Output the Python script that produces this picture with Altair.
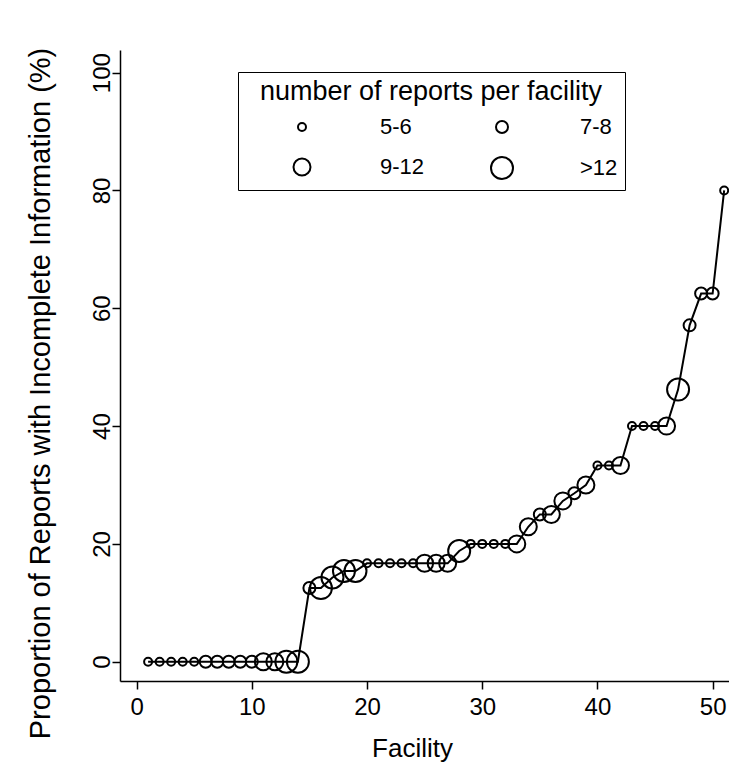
import altair as alt
import pandas as pd

facility = list(range(1, 52))
percent = [0, 0, 0, 0, 0, 0, 0, 0, 0, 0, 0, 0, 0, 0,
           12.5, 12.5, 14.3, 15.4, 15.4, 16.7, 16.7, 16.7, 16.7, 16.7,
           16.7, 16.7, 16.7, 18.8, 20, 20, 20, 20, 20, 22.9,
           25, 25, 27.3, 28.6, 30, 33.3, 33.3, 33.3, 40, 40, 40, 40,
           46.2, 57.1, 62.5, 62.5, 80]
reports = ["5-6"] * 5 + ["7-8"] * 5 + ["9-12", "9-12", ">12", ">12",
           "7-8", ">12", ">12", ">12", ">12",
           "5-6", "5-6", "5-6", "5-6", "5-6",
           "9-12", "9-12", "9-12", ">12",
           "5-6", "5-6", "5-6", "5-6", "9-12", "9-12",
           "7-8", "9-12", "9-12", "7-8", "9-12",
           "5-6", "5-6", "9-12", "5-6", "5-6", "5-6", "9-12",
           ">12", "7-8", "7-8", "7-8", "5-6"]
categories = ["5-6", "7-8", "9-12", ">12"]
x_ticks = [0, 10, 20, 30, 40, 50]
y_ticks = [0, 20, 40, 60, 80, 100]

df = pd.DataFrame({"Facility": facility, "Percent": percent, "Reports": reports})

FONT = "Liberation Sans"
W, H = 609, 631

x = alt.X("Facility:Q",
          scale=alt.Scale(domain=[-1.44, 51.42], nice=False, zero=False),
          axis=alt.Axis(values=x_ticks, title="Facility", tickSize=8,
                        labelFontSize=24, labelPadding=6, titleFontSize=26,
                        titleX=292, titleY=67, titleBaseline="middle",
                        titleAlign="center", labelFlush=False))
y = alt.Y("Percent:Q",
          scale=alt.Scale(domain=[-3.28, 103.85], nice=False, zero=False),
          axis=alt.Axis(values=y_ticks,
                        title="Proportion of Reports with Incomplete Information (%)",
                        tickSize=8, labelFontSize=24, labelAngle=270,
                        labelAlign="center", labelBaseline="alphabetic",
                        labelPadding=3, labelFlush=False, titleFontSize=29,
                        titleAngle=270, titleX=-80, titleY=343,
                        titleBaseline="middle", titleAlign="center",
                        titleLimit=800))

line = alt.Chart(df).mark_line(color="black", strokeWidth=2).encode(x=x, y=y)

points = alt.Chart(df).mark_point(
    shape="circle", filled=False, color="black", strokeWidth=2, opacity=1
).encode(
    x="Facility:Q",
    y="Percent:Q",
    size=alt.Size("Reports:N",
                  scale=alt.Scale(type="ordinal", domain=categories,
                                  range=[64, 144, 289, 484]),
                  legend=alt.Legend(
                      title="number of reports per facility",
                      orient="none", legendX=118, legendY=22,
                      direction="horizontal", columns=2, padding=7,
                      strokeColor="black",
                      titleAnchor="middle", titleFontSize=27,
                      titleFont=FONT, titleFontWeight="normal",
                      titleColor="black", titlePadding=10, titleLimit=500,
                      labelFontSize=22, labelFont=FONT, labelColor="black",
                      labelOffset=66, columnPadding=20, rowPadding=15,
                      symbolOffset=45, symbolStrokeColor="black",
                      symbolStrokeWidth=2, symbolFillColor="transparent"))
)

chart = alt.layer(line, points).properties(
    width=W, height=H,
    padding={"left": 112, "top": 42, "right": 0, "bottom": 92},
    autosize=alt.AutoSizeParams(type="none"),
).configure_view(stroke=None).configure_axis(
    grid=False, domainColor="black", tickColor="black", labelColor="black",
    titleColor="black", domainWidth=1.5, tickWidth=1.5, labelFont=FONT,
    titleFont=FONT, titleFontWeight="normal"
)

chart.save("out.html", embed_options={"renderer": "svg", "actions": False})
